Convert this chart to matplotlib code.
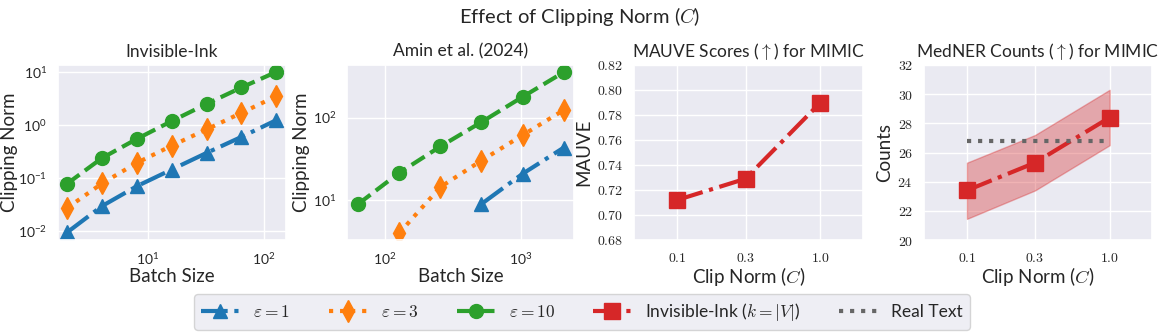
import matplotlib
matplotlib.use("Agg")
import matplotlib.pyplot as plt
import seaborn as sns
from matplotlib.ticker import FuncFormatter, NullLocator, FixedLocator

# ---------------- data ----------------
ii_batch = [2, 4, 8, 16, 32, 64, 128]
ii_eps1 = [0.0096, 0.030, 0.071, 0.146, 0.30, 0.60, 1.24]
ii_eps3 = [0.0276, 0.080, 0.195, 0.41, 0.83, 1.7, 3.5]
ii_eps10 = [0.079, 0.24, 0.55, 1.19, 2.5, 5.1, 10.0]

amin_batch_eps1 = [512, 1024, 2048]
amin_eps1 = [8.9, 20.7, 43.0]
amin_batch_eps3 = [128, 256, 512, 1024, 2048]
amin_eps3 = [3.95, 14.3, 30.0, 61.0, 123.0]
amin_batch_eps10 = [64, 128, 256, 512, 1024, 2048]
amin_eps10 = [8.9, 21.3, 44.5, 88.0, 178.0, 355.0]

clip_norms = [0.1, 0.3, 1.0]
clip_labels = ["0.1", "0.3", "1.0"]
mauve = [0.712, 0.729, 0.790]
medner = [23.4, 25.3, 28.4]
medner_low = [21.45, 23.4, 26.5]
medner_high = [25.3, 27.2, 30.3]
real_text = 26.8

# ---------------- style ----------------
sns.set_theme(style="darkgrid")
plt.rcParams["font.family"] = ["Lato", "DejaVu Sans"]
plt.rcParams["mathtext.fontset"] = "cm"

blue, orange, green, red = "#1f77b4", "#ff7f0e", "#2ca02c", "#d62728"
gray = "#666666"
lw, ms = 3, 10

fig = plt.figure(figsize=(11.6, 3.36), dpi=100)
W, H = 1160, 336
def add_ax(l, r, t=65, b=240):
    return fig.add_axes([l / W, 1 - b / H, (r - l) / W, (b - t) / H])

ax1 = add_ax(58, 286)
ax2 = add_ax(347, 574)
ax3 = add_ax(634, 863)
ax4 = add_ax(924, 1152)

TS, LS, TKS = 12.5, 13.5, 10

# Invisible-Ink
h1, = ax1.plot(ii_batch, ii_eps1, color=blue, ls="-.", lw=lw, marker="^", ms=ms, label=r"$\varepsilon=1$")
h2, = ax1.plot(ii_batch, ii_eps3, color=orange, ls=":", lw=lw, marker="d", ms=ms + 1, label=r"$\varepsilon=3$")
h3, = ax1.plot(ii_batch, ii_eps10, color=green, ls="--", lw=lw, marker="o", ms=ms, label=r"$\varepsilon=10$")
ax1.set_xscale("log"); ax1.set_yscale("log")
ax1.set_xlim(1.67, 155); ax1.set_ylim(10 ** -2.16, 10 ** 1.13)
ax1.set_title("Invisible-Ink", fontsize=TS)
ax1.set_ylabel("Clipping Norm", fontsize=LS)
ax1.yaxis.set_label_coords(-0.175, 0.5)

# Amin et al.
ax2.plot(amin_batch_eps1, amin_eps1, color=blue, ls="-.", lw=lw, marker="^", ms=ms)
ax2.plot(amin_batch_eps3, amin_eps3, color=orange, ls=":", lw=lw, marker="d", ms=ms + 1)
ax2.plot(amin_batch_eps10, amin_eps10, color=green, ls="--", lw=lw, marker="o", ms=ms)
ax2.set_xscale("log"); ax2.set_yscale("log")
ax2.set_xlim(53, 2440); ax2.set_ylim(3.25, 435)
ax2.set_title("Amin et al. (2024)", fontsize=TS)
ax2.set_ylabel("Clipping Norm", fontsize=LS, labelpad=2)

for ax in (ax1, ax2):
    ax.xaxis.set_minor_locator(NullLocator())
    ax.yaxis.set_minor_locator(NullLocator())
    ax.set_xlabel("Batch Size", fontsize=LS, labelpad=1)

# MAUVE
h4, = ax3.plot(clip_norms, mauve, color=red, ls="-.", lw=lw, marker="s", ms=ms + 1,
               label=r"Invisible-Ink ($k=|V|$)")
ax3.set_ylim(0.68, 0.82)
ax3.set_yticks([0.68 + 0.02 * i for i in range(8)])
ax3.yaxis.set_major_formatter(FuncFormatter(lambda v, p: r"$%.2f$" % v))
ax3.set_title(r"MAUVE Scores ($\uparrow$) for MIMIC", fontsize=TS)
ax3.set_ylabel("MAUVE", fontsize=LS, labelpad=3)

# MedNER
ax4.fill_between(clip_norms, medner_low, medner_high, color=red, alpha=0.35, lw=1)
ax4.plot(clip_norms, medner, color=red, ls="-.", lw=lw, marker="s", ms=ms + 1)
h5, = ax4.plot([clip_norms[0], clip_norms[-1]], [real_text, real_text], color=gray, ls=":", lw=lw,
               label="Real Text")
ax4.set_ylim(20, 32)
ax4.set_yticks(range(20, 33, 2))
ax4.yaxis.set_major_formatter(FuncFormatter(lambda v, p: r"$%d$" % v))
ax4.set_title(r"MedNER Counts ($\uparrow$) for MIMIC", fontsize=TS)
ax4.set_ylabel("Counts", fontsize=LS, labelpad=3)

for ax in (ax3, ax4):
    ax.set_xscale("log")
    ax.set_xlim(0.05, 1.98)
    ax.xaxis.set_major_locator(FixedLocator(clip_norms))
    ax.xaxis.set_minor_locator(NullLocator())
    ax.xaxis.set_major_formatter(FuncFormatter(lambda v, p: r"$%.1f$" % v))
    ax.set_xlabel(r"Clip Norm ($C$)", fontsize=LS, labelpad=1)

for ax in (ax1, ax2, ax3, ax4):
    ax.tick_params(labelsize=TKS, pad=2)

fig.suptitle(r"Effect of Clipping Norm ($C$)", fontsize=14.5, y=0.985)

fig.legend(handles=[h1, h2, h3, h4, h5], loc="center", bbox_to_anchor=(582 / W, 1 - 312 / H),
           ncol=5, fontsize=12.5, frameon=True, handlelength=2.2, columnspacing=2.2)

fig.savefig("out.png", dpi=100)
